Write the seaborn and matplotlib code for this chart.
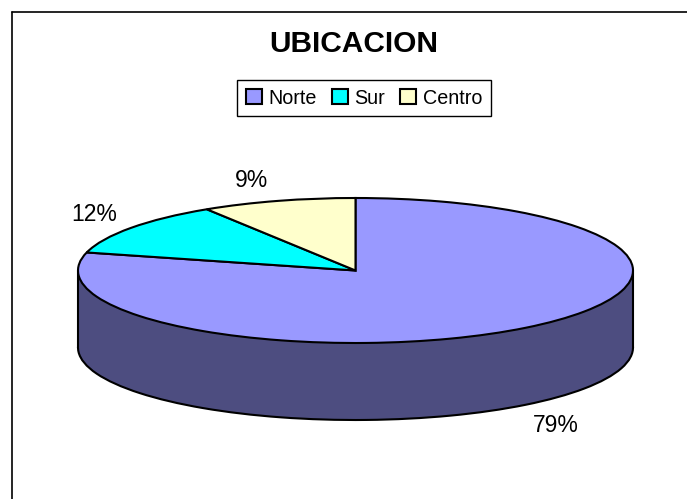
import matplotlib
matplotlib.use("Agg")
import matplotlib.pyplot as plt
import seaborn as sns

categories = ["Norte", "Sur", "Centro"]
values = [79, 12, 9]
top_colors = ["#9999FF", "#00FFFF", "#FFFFCC"]
side_colors = ["#4D4D80", "#4D4D80", "#4D4D80"]

W, H = 687, 499
CX, CY, RX, RY = 355.5, 270.5, 277.5, 72.5
DEPTH = 77 / RY


def dx(px):
    return (px - CX) / RX


def dy(py):
    return (CY - py) / RY


sns.set_theme(style="white")
plt.rcParams["font.family"] = ["Liberation Sans", "DejaVu Sans"]

fig = plt.figure(figsize=(W / 100, H / 100), dpi=100, facecolor="white")
ax = fig.add_axes([0, 0, 1, 1])

edge = dict(edgecolor="black", linewidth=1.5)

# cara inferior y lateral del cilindro
ax.pie(values, colors=side_colors, startangle=90, counterclock=False,
       center=(0, -DEPTH), wedgeprops=edge)
ax.fill_between([-1, 1], -DEPTH, 0, color=side_colors[0], linewidth=0, zorder=1.5)
ax.fill_between([-0.98, 0.98], -DEPTH - 0.03, 0, color=side_colors[0], linewidth=0, zorder=1.5)
ax.plot([-1, -1], [-DEPTH, 0], color="black", lw=1.5, zorder=1.6)
ax.plot([1, 1], [-DEPTH, 0], color="black", lw=1.5, zorder=1.6)

# cara superior
wedges, _ = ax.pie(values, colors=top_colors, startangle=90, counterclock=False,
                   center=(0, 0), wedgeprops=edge)
for w in wedges:
    w.set_zorder(2)

ax.set_aspect("auto")
ax.set_xlim(dx(0), dx(W))
ax.set_ylim(dy(H), dy(0))
ax.set_axis_off()

# marco exterior (solo arriba e izquierda)
fig.add_artist(plt.Line2D([12 / W, 12 / W], [0, 1 - 12 / H], color="black", lw=1.2))
fig.add_artist(plt.Line2D([12 / W, 1], [1 - 12 / H, 1 - 12 / H], color="black", lw=1.2))

fig.text(354 / W, 1 - 44.5 / H, "UBICACION", fontsize=21.5, fontweight="bold",
         ha="center", va="center", color="black")

label_pos = [(556, 425.5), (94.5, 214.5), (252, 180.5)]
for v, (px, py) in zip(values, label_pos):
    ax.text(dx(px), dy(py), f"{v}%", fontsize=16.5, ha="center", va="center", color="black")

leg = fig.legend(wedges, categories, loc="center", bbox_to_anchor=(364 / W, 1 - 98 / H),
                 ncol=3, fontsize=14.2, frameon=True, fancybox=False, edgecolor="black",
                 framealpha=1, handlelength=0.8, handleheight=0.8, handletextpad=0.35,
                 columnspacing=0.75, borderpad=0.45, labelspacing=0.2, labelcolor="black")
leg.get_frame().set_linewidth(1.0)

fig.savefig("out.png", dpi=100)
